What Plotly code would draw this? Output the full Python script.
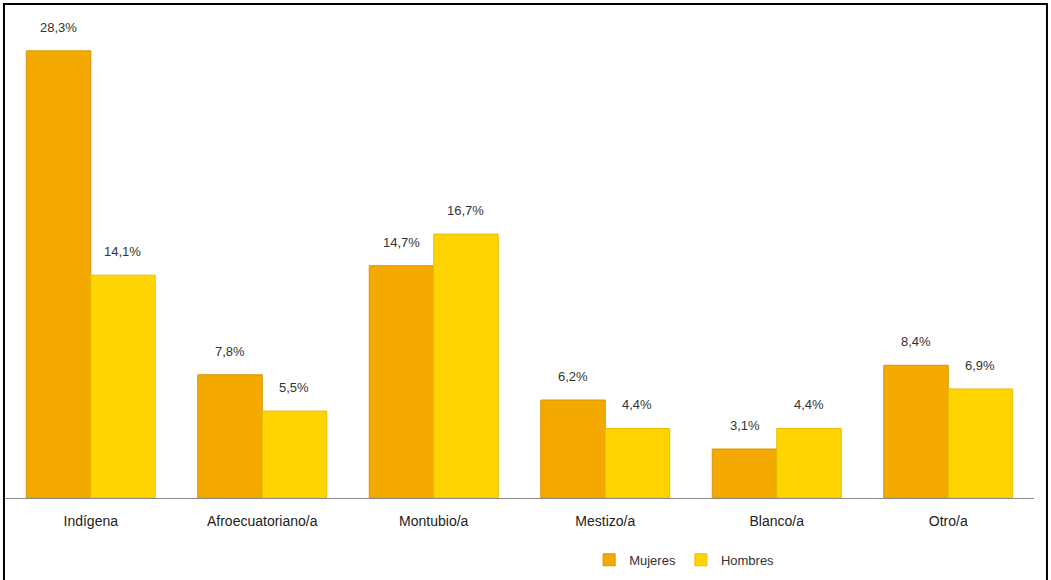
import plotly.graph_objects as go

categories = ["Indígena", "Afroecuatoriano/a", "Montubio/a", "Mestizo/a", "Blanco/a", "Otro/a"]
mujeres = [28.3, 7.8, 14.7, 6.2, 3.1, 8.4]
hombres = [14.1, 5.5, 16.7, 4.4, 4.4, 6.9]
series_names = ["Mujeres", "Hombres"]

def fmt(v):
    return f"{v:.1f}".replace(".", ",") + "%"

fig = go.Figure()
fig.add_trace(go.Bar(name=series_names[0], x=categories, y=mujeres,
                     marker=dict(color="#F4A900", line=dict(color="#D99500", width=1))))
fig.add_trace(go.Bar(name=series_names[1], x=categories, y=hombres,
                     marker=dict(color="#FFD400", line=dict(color="#E8BE00", width=1))))

annotations = []
for vals, shift in ((mujeres, -32), (hombres, 32)):
    for c, v in zip(categories, vals):
        annotations.append(dict(x=c, y=v, xref="x", yref="y", text=fmt(v),
                                showarrow=False, xshift=shift, yanchor="bottom", yshift=14,
                                font=dict(family="Liberation Sans, Arial", size=13, color="#333")))

fig.update_layout(
    width=1051, height=580,
    margin=dict(l=5, r=17, t=5, b=78),
    plot_bgcolor="white", paper_bgcolor="white",
    barmode="group", bargap=0.248, bargroupgap=0,
    font=dict(family="Liberation Sans, Arial", size=14, color="#222"),
    xaxis=dict(showline=True, linecolor="#8a8a8a", linewidth=1, ticks="",
               ticklabelstandoff=10,
               tickfont=dict(size=14, color="#222"), showgrid=False),
    yaxis=dict(range=[0, 31.2], visible=False, showgrid=False),
    legend=dict(orientation="h", x=0.66, xanchor="center", y=-0.095, yanchor="top",
                font=dict(size=13, color="#333"), itemwidth=30, traceorder="normal"),
    annotations=annotations,
    shapes=[dict(type="rect", xref="paper", yref="paper", x0=-0.001, x1=1.0126,
                 y0=-0.2, y1=1.002, line=dict(color="black", width=2))],
)

fig.write_html("out.html")
